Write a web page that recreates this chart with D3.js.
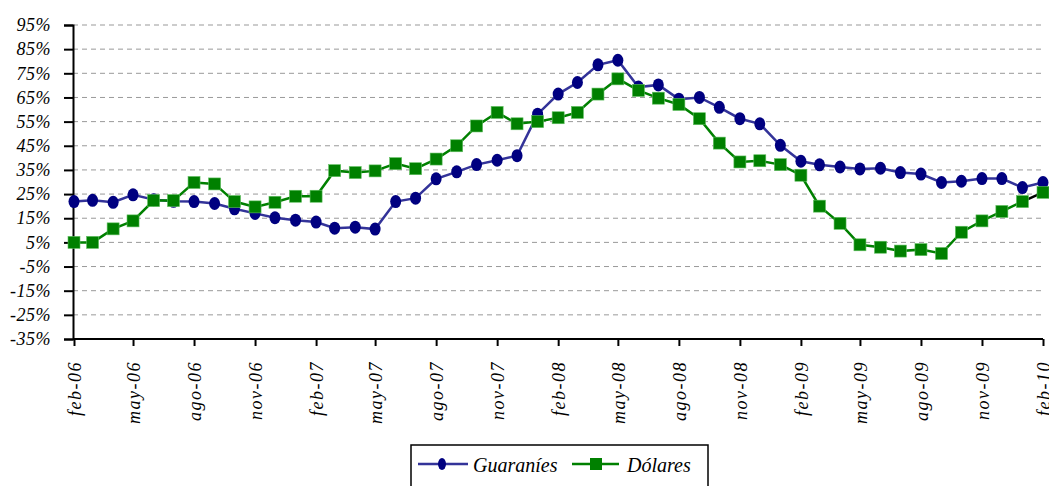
<!DOCTYPE html>
<html>
<head>
<meta charset="utf-8">
<script src="https://cdn.jsdelivr.net/npm/d3@7"></script>
<style>
  body { margin: 0; background: #fff; }
  svg { display: block; }
  .lbl { font-family: "Liberation Serif", "DejaVu Serif", serif; font-style: italic; }
</style>
</head>
<body>
<svg id="chart"></svg>
<script>
// Monthly rates, feb-06 .. feb-10
const months = [
  "2006-02","2006-03","2006-04","2006-05","2006-06","2006-07","2006-08","2006-09","2006-10","2006-11","2006-12",
  "2007-01","2007-02","2007-03","2007-04","2007-05","2007-06","2007-07","2007-08","2007-09","2007-10","2007-11","2007-12",
  "2008-01","2008-02","2008-03","2008-04","2008-05","2008-06","2008-07","2008-08","2008-09","2008-10","2008-11","2008-12",
  "2009-01","2009-02","2009-03","2009-04","2009-05","2009-06","2009-07","2009-08","2009-09","2009-10","2009-11","2009-12",
  "2010-01","2010-02"
];
const guaranies = [
  21.9, 22.4, 21.6, 24.7, 22.7, 22.0, 21.9, 21.1, 18.9, 17.0, 15.2,
  14.2, 13.4, 10.9, 11.3, 10.5, 21.9, 23.3, 31.3, 34.2, 37.2, 39.0, 40.9,
  58.1, 66.4, 71.2, 78.5, 80.4, 69.3, 70.2, 64.3, 65.0, 60.9, 56.2, 54.1,
  45.2, 38.6, 37.1, 36.2, 35.4, 35.7, 33.9, 33.3, 29.8, 30.3, 31.4, 31.4,
  27.7, 29.8
];
const dolares = [
  5.0, 5.0, 10.6, 13.9, 22.3, 22.3, 29.8, 29.2, 21.9, 19.7, 21.6,
  24.1, 24.1, 34.7, 33.9, 34.6, 37.6, 35.5, 39.5, 45.0, 53.2, 58.8, 54.1,
  55.0, 56.6, 58.8, 66.4, 72.7, 67.9, 64.7, 62.1, 56.2, 46.1, 38.3, 38.8,
  37.2, 32.8, 20.0, 12.9, 4.0, 3.0, 1.4, 2.0, 0.4, 9.2, 13.9, 17.8,
  21.9, 25.7
];
const yTicks = [95, 85, 75, 65, 55, 45, 35, 25, 15, 5, -5, -15, -25, -35];
const xTickMonths = ["2006-02","2006-05","2006-08","2006-11","2007-02","2007-05","2007-08","2007-11",
  "2008-02","2008-05","2008-08","2008-11","2009-02","2009-05","2009-08","2009-11","2010-02"];
const monthNames = ["ene","feb","mar","abr","may","jun","jul","ago","sep","oct","nov","dic"];

const width = 1049, height = 486;
const margin = { top: 25, right: 6, bottom: 147, left: 73 };

const svg = d3.select('#chart')
  .attr('width', width)
  .attr('height', height);

const parse = d3.timeParse("%Y-%m");
const dates = months.map(parse);

const x = d3.scaleTime()
  .domain([dates[0], dates[dates.length - 1]])
  .range([margin.left + 1, width - margin.right]);

const y = d3.scaleLinear()
  .domain([-35, 95])
  .range([height - margin.bottom, margin.top]);

// dashed gridlines
svg.append('g')
  .selectAll('line')
  .data(yTicks)
  .enter()
  .append('line')
  .attr('x1', margin.left)
  .attr('x2', width - margin.right)
  .attr('y1', d => y(d))
  .attr('y2', d => y(d))
  .attr('stroke', '#999')
  .attr('stroke-width', 1)
  .attr('stroke-dasharray', '5,4');

// y axis
const yAxis = d3.axisLeft(y)
  .tickValues(yTicks)
  .tickSize(9)
  .tickFormat(d => d + '%');

const yg = svg.append('g')
  .attr('transform', `translate(${margin.left},0)`)
  .call(yAxis);
yg.select('.domain').attr('stroke', '#000').attr('stroke-width', 2);
yg.selectAll('.tick line').attr('stroke', '#000').attr('stroke-width', 2);
yg.selectAll('.tick text')
  .attr('class', 'lbl')
  .attr('x', -22)
  .style('font-size', '18px')
  .style('letter-spacing', '0.5px')
  .attr('fill', '#000');

// x axis
const xAxis = d3.axisBottom(x)
  .tickValues(xTickMonths.map(parse))
  .tickSize(7)
  .tickFormat(d => monthNames[d.getMonth()] + '-' + d3.timeFormat('%y')(d));

const xg = svg.append('g')
  .attr('transform', `translate(0,${height - margin.bottom})`)
  .call(xAxis);
xg.select('.domain').attr('stroke', '#000').attr('stroke-width', 2).attr('d', `M${margin.left},0H${width - margin.right}`);
xg.selectAll('.tick line').attr('stroke', '#000').attr('stroke-width', 2);
xg.selectAll('.tick text')
  .attr('class', 'lbl')
  .attr('transform', 'rotate(-90)')
  .attr('x', -22)
  .attr('y', 0)
  .attr('dy', '0.35em')
  .style('text-anchor', 'end')
  .style('font-size', '18px')
  .style('letter-spacing', '1.5px')
  .attr('fill', '#000');

const line = d3.line()
  .x((d, i) => x(dates[i]))
  .y(d => y(d));

// Guaraníes
svg.append('path')
  .datum(guaranies)
  .attr('fill', 'none')
  .attr('stroke', '#333399')
  .attr('stroke-width', 2.5)
  .attr('d', line);

// Dólares (last segment is black in the original)
svg.append('path')
  .datum(dolares.slice(0, dolares.length - 1))
  .attr('fill', 'none')
  .attr('stroke', '#008000')
  .attr('stroke-width', 2.5)
  .attr('d', line);

svg.append('line')
  .attr('x1', x(dates[dates.length - 2]))
  .attr('y1', y(dolares[dolares.length - 2]))
  .attr('x2', x(dates[dates.length - 1]))
  .attr('y2', y(dolares[dolares.length - 1]))
  .attr('stroke', '#000')
  .attr('stroke-width', 2.5);

svg.append('g')
  .selectAll('ellipse')
  .data(guaranies)
  .enter()
  .append('ellipse')
  .attr('cx', (d, i) => x(dates[i]))
  .attr('cy', d => y(d))
  .attr('rx', 5.5)
  .attr('ry', 6.5)
  .attr('fill', '#000080');

svg.append('g')
  .selectAll('rect')
  .data(dolares)
  .enter()
  .append('rect')
  .attr('x', (d, i) => x(dates[i]) - 6)
  .attr('y', d => y(d) - 6)
  .attr('width', 12)
  .attr('height', 12)
  .attr('fill', '#008000')
  .attr('stroke', '#5fbf5f')
  .attr('stroke-width', 0.6);

// legend
const legend = svg.append('g')
  .attr('transform', 'translate(411,445)');

legend.append('rect')
  .attr('x', 0)
  .attr('y', 0)
  .attr('width', 297)
  .attr('height', 50)
  .attr('fill', '#fff')
  .attr('stroke', '#000')
  .attr('stroke-width', 1.5);

legend.append('line')
  .attr('x1', 7).attr('x2', 57)
  .attr('y1', 19).attr('y2', 19)
  .attr('stroke', '#333399').attr('stroke-width', 2.5);
legend.append('ellipse')
  .attr('cx', 31).attr('cy', 19)
  .attr('rx', 4).attr('ry', 6)
  .attr('fill', '#000080');
legend.append('text')
  .attr('class', 'lbl')
  .attr('x', 62).attr('y', 27)
  .style('font-size', '20px')
  .text('Guaraníes');

legend.append('line')
  .attr('x1', 161).attr('x2', 208)
  .attr('y1', 19).attr('y2', 19)
  .attr('stroke', '#008000').attr('stroke-width', 2.5);
legend.append('rect')
  .attr('x', 179).attr('y', 13)
  .attr('width', 12).attr('height', 12)
  .attr('fill', '#008000');
legend.append('text')
  .attr('class', 'lbl')
  .attr('x', 216).attr('y', 27)
  .style('font-size', '20px')
  .text('Dólares');
</script>
</body>
</html>
